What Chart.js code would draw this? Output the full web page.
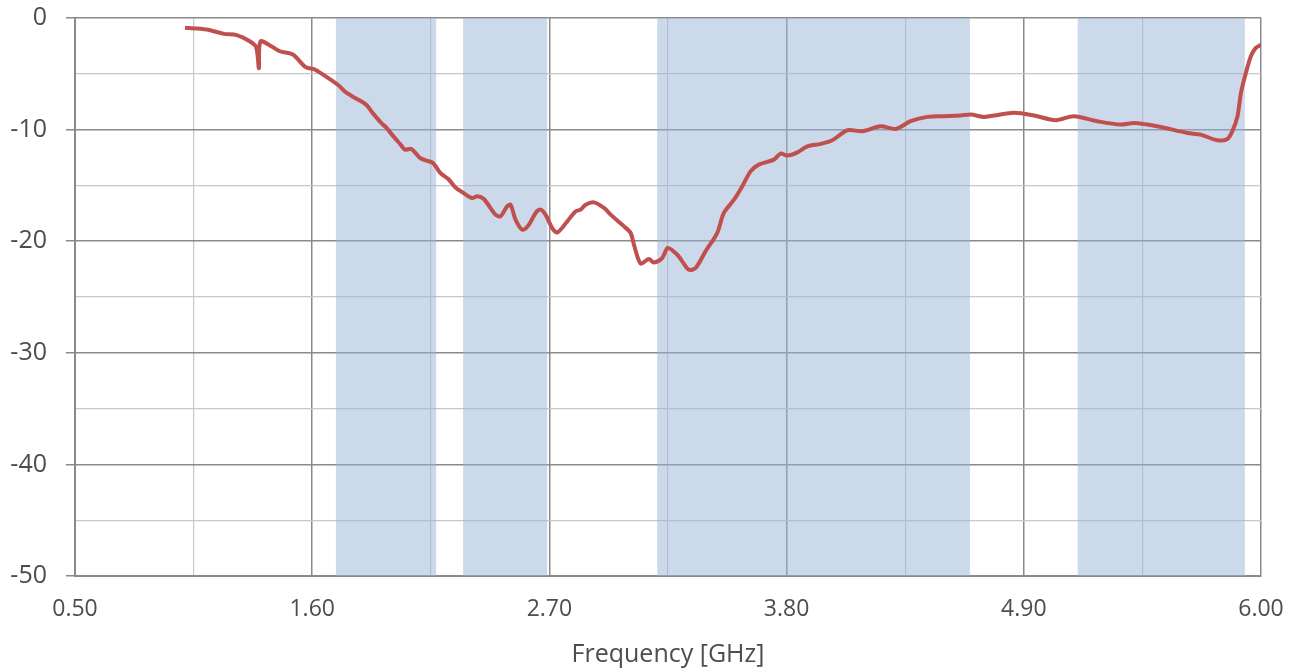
<!DOCTYPE html>
<html lang="en">
<head>
<meta charset="utf-8">
<title>S11 - Frequency</title>
<script src="https://cdn.jsdelivr.net/npm/chart.js@4.4.1/dist/chart.umd.min.js"></script>
<style>
  html, body { margin: 0; padding: 0; background: #fff; }
  #wrap { width: 1295px; height: 670px; }
</style>
</head>
<body>
<div id="wrap"><canvas id="chart" width="1295" height="670"></canvas></div>
<script>
// measured curve (GHz, dB)
var freq = [1.01, 1.11, 1.19, 1.25, 1.31, 1.34, 1.353, 1.36, 1.41, 1.45, 1.51, 1.57, 1.61, 1.65, 1.72, 1.75, 1.79, 1.85, 1.88, 1.92, 1.945, 1.97, 2.01, 2.03, 2.06, 2.10, 2.13, 2.16, 2.195, 2.23, 2.265, 2.29, 2.34, 2.365, 2.396, 2.45, 2.473, 2.504, 2.52, 2.543, 2.574, 2.605, 2.636, 2.659, 2.682, 2.713, 2.737, 2.783, 2.821, 2.845, 2.868, 2.906, 2.953, 2.984, 3.046, 3.077, 3.092, 3.123, 3.161, 3.185, 3.223, 3.249, 3.293, 3.316, 3.347, 3.378, 3.424, 3.478, 3.509, 3.556, 3.594, 3.633, 3.671, 3.741, 3.772, 3.803, 3.85, 3.896, 3.958, 4.012, 4.082, 4.151, 4.236, 4.306, 4.375, 4.453, 4.53, 4.607, 4.654, 4.715, 4.762, 4.855, 4.947, 5.048, 5.132, 5.241, 5.349, 5.411, 5.473, 5.535, 5.659, 5.72, 5.798, 5.844, 5.867, 5.891, 5.907, 5.93, 5.953, 5.976, 6.0];
var s11 = [-0.88, -1.03, -1.42, -1.54, -2.08, -2.6, -4.5, -2.1, -2.53, -2.98, -3.27, -4.41, -4.6, -5.07, -6.0, -6.56, -7.07, -7.76, -8.5, -9.4, -9.85, -10.45, -11.35, -11.8, -11.73, -12.54, -12.78, -12.99, -13.9, -14.4, -15.2, -15.53, -16.13, -15.98, -16.22, -17.62, -17.77, -16.88, -16.73, -18.07, -18.97, -18.52, -17.47, -17.17, -17.62, -18.82, -19.21, -18.22, -17.33, -17.17, -16.73, -16.52, -17.02, -17.62, -18.67, -19.27, -20.31, -22.0, -21.6, -21.9, -21.51, -20.61, -21.21, -21.81, -22.56, -22.4, -20.91, -19.27, -17.47, -16.28, -15.09, -13.74, -13.14, -12.69, -12.15, -12.33, -12.04, -11.5, -11.28, -10.96, -10.06, -10.15, -9.7, -9.94, -9.25, -8.86, -8.8, -8.74, -8.65, -8.86, -8.74, -8.5, -8.74, -9.16, -8.8, -9.25, -9.55, -9.4, -9.55, -9.76, -10.3, -10.45, -10.96, -10.84, -10.15, -8.8, -6.71, -4.92, -3.43, -2.68, -2.4];

// x axis ticks (every other one labelled)
var xTicks = [0.5, 1.05, 1.6, 2.15, 2.7, 3.25, 3.8, 4.35, 4.9, 5.45, 6.0];
var xLabels = ['0.50', '', '1.60', '', '2.70', '', '3.80', '', '4.90', '', '6.00'];

// shaded frequency bands (GHz)
var bandStart = [1.71, 2.30, 3.20, 5.15];
var bandEnd = [2.175, 2.69, 4.65, 5.925];

var major = '#8a8a8a';
var minor = '#c8c8c8';
var textColor = '#4d4d4d';
var fontFam = "'Open Sans', sans-serif";

// bands go on top of the grid, half transparent
var bandPlugin = {
  id: 'bands',
  beforeDatasetsDraw: function(chart) {
    var ctx = chart.ctx, x = chart.scales.x, a = chart.chartArea;
    ctx.save();
    ctx.fillStyle = 'rgba(151,179,215,0.5)';
    for (var i = 0; i < bandStart.length; i++) {
      var x1 = x.getPixelForValue(bandStart[i]);
      var x2 = x.getPixelForValue(bandEnd[i]);
      ctx.fillRect(x1, a.top, x2 - x1, a.bottom - a.top);
    }
    ctx.restore();
  }
};

var points = freq.map(function(f, i) { return { x: f, y: s11[i] }; });

new Chart(document.getElementById('chart').getContext('2d'), {
  type: 'line',
  data: {
    datasets: [{
      data: points,
      borderColor: '#c0504d',
      borderWidth: 4,
      pointRadius: 0,
      tension: 0.3,
      fill: false
    }]
  },
  options: {
    responsive: false,
    animation: false,
    devicePixelRatio: 1,
    layout: { padding: { top: 18, right: 34, left: 0, bottom: 0 } },
    plugins: { legend: { display: false }, tooltip: { enabled: false } },
    scales: {
      x: {
        type: 'linear',
        min: 0.5,
        max: 6.0,
        afterBuildTicks: function(scale) {
          scale.ticks = xTicks.map(function(v) { return { value: v }; });
        },
        afterFit: function(scale) {
          scale.height = 94;
          scale.paddingLeft = 0;
          scale.paddingRight = 0;
        },
        grid: {
          drawTicks: false,
          color: function(c) { return c.index % 2 === 0 ? major : minor; },
          lineWidth: function(c) { return c.index % 2 === 0 ? 1.5 : 1.2; }
        },
        border: { color: major, width: 2 },
        ticks: {
          autoSkip: false,
          maxRotation: 0,
          padding: 20,
          color: textColor,
          font: { family: fontFam, size: 23 },
          callback: function(v, i) { return xLabels[i]; }
        },
        title: {
          display: true,
          text: 'Frequency [GHz]',
          color: textColor,
          font: { family: fontFam, size: 25 },
          padding: { top: 0, bottom: 0 }
        }
      },
      y: {
        min: -50,
        max: 0,
        afterFit: function(scale) {
          scale.width = 75;
          scale.paddingTop = 0;
          scale.paddingBottom = 0;
        },
        grid: {
          tickLength: 9,
          color: function(c) { return c.tick.value % 10 === 0 ? major : minor; },
          tickColor: function(c) { return c.tick.value % 10 === 0 ? major : 'rgba(0,0,0,0)'; },
          lineWidth: function(c) { return c.tick.value % 10 === 0 ? 1.5 : 1.2; }
        },
        border: { color: major, width: 2 },
        ticks: {
          stepSize: 5,
          padding: 19,
          color: textColor,
          font: { family: fontFam, size: 25 },
          callback: function(v) { return v % 10 === 0 ? String(v) : ''; }
        }
      }
    }
  },
  plugins: [bandPlugin]
});
</script>
</body>
</html>
